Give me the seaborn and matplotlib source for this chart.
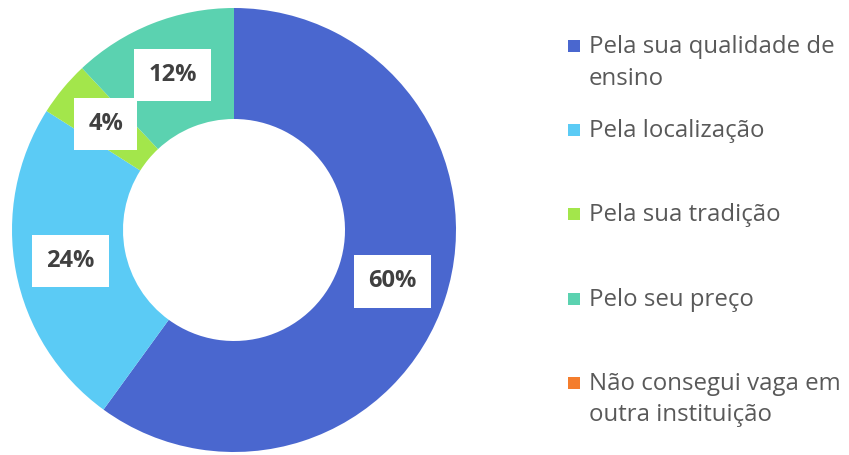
import matplotlib.pyplot as plt
import seaborn as sns
from matplotlib.patches import Rectangle

sns.set_theme(style="white")
plt.rcParams['font.family'] = ['Open Sans', 'DejaVu Sans']

categories = [
    "Pela sua qualidade de\nensino",
    "Pela localização",
    "Pela sua tradição",
    "Pelo seu preço",
    "Não consegui vaga em\noutra instituição",
]
values = [60, 24, 4, 12, 0]
colors = ["#4A67CF", "#5BCBF5", "#A3E64B", "#5BD2B0", "#F47D2D"]

W, H = 849, 455
fig = plt.figure(figsize=(W / 100, H / 100), dpi=100)
ax = fig.add_axes([12 / W, 3 / H, 444 / W, 444 / H])


def pct(p):
    return "" if p < 0.5 else f"{p:.0f}%"


wedges, texts, autotexts = ax.pie(
    values, colors=colors, startangle=90, counterclock=False,
    wedgeprops=dict(width=0.5, linewidth=0), autopct=pct, pctdistance=0.75,
)
for t in autotexts:
    t.set_fontsize(17)
    t.set_fontweight("bold")
    t.set_color("#404040")
    t.set_bbox(dict(facecolor="white", edgecolor="none", boxstyle="square,pad=0.6"))
ax.set_aspect("equal")
ax.set_xlim(-1, 1)
ax.set_ylim(-1, 1)
ax.axis("off")

# legend drawn manually to match spacing of original
for i, (lab, c) in enumerate(zip(categories, colors)):
    yc = 46 + 84.2 * i
    fig.patches.append(Rectangle((568 / W, 1 - (yc + 6) / H), 12 / W, 12 / H,
                                 transform=fig.transFigure, facecolor=c, edgecolor="none"))
    fig.text(589 / W, 1 - (yc - 11) / H, lab, fontsize=17.3, color="#595959",
             va="top", ha="left", linespacing=1.42)

fig.savefig("out.png", dpi=100)
